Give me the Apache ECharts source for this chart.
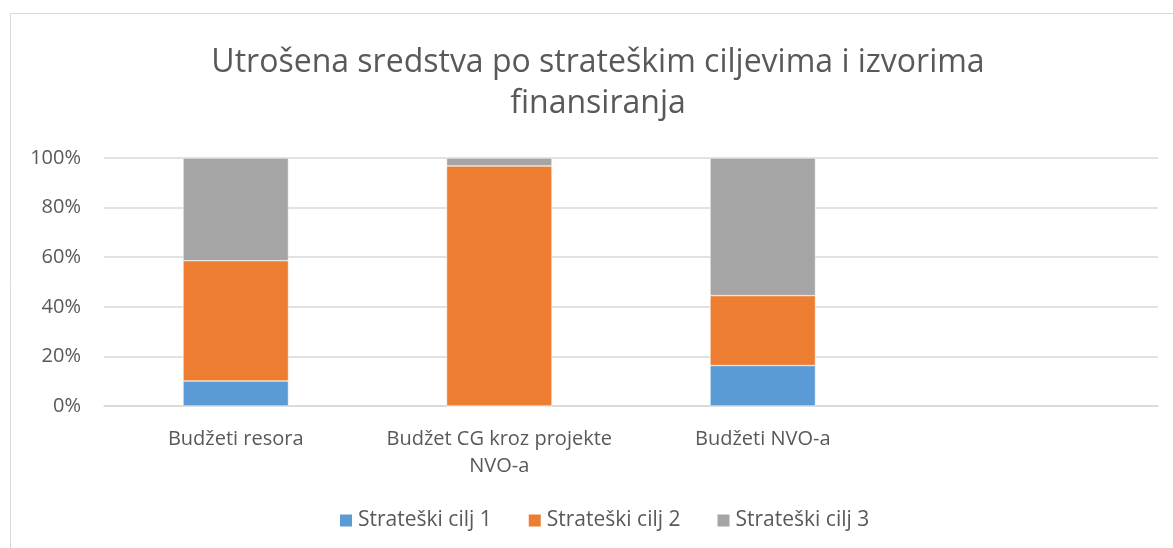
<!DOCTYPE html>
<html>
<head>
<meta charset="utf-8">
<script src="https://cdn.jsdelivr.net/npm/echarts@6/dist/echarts.min.js"></script>
<style>
  html, body { margin: 0; padding: 0; background: #fff; }
  #myChart { width: 1173px; height: 548px; }
</style>
</head>
<body>
<div id="myChart"></div>
<script>
// categories (4th slot is empty, as in the original)
const categories = ['Budžeti resora', 'Budžet CG kroz projekte\nNVO-a', 'Budžeti NVO-a', '']
const cilj1 = [10.1, 0, 16.3, null]
const cilj2 = [48.5, 96.8, 28.2, null]
const cilj3 = [41.4, 3.2, 55.5, null]
const seriesNames = ['Strateški cilj 1', 'Strateški cilj 2', 'Strateški cilj 3']
const colors = ['#5b9bd5', '#ed7d31', '#a5a5a5']

const font = '"Open Sans", "Liberation Sans", sans-serif'

let myChart = echarts.init(document.getElementById('myChart'))

function bar (name, data, color) {
  return {
    name: name,
    type: 'bar',
    stack: 'total',
    barWidth: '40%',
    itemStyle: { color: color, borderColor: '#fff', borderWidth: 0.5 },
    data: data
  }
}

let option = {
  animation: false,
  color: colors,
  title: {
    text: 'Utrošena sredstva po strateškim ciljevima i izvorima\nfinansiranja',
    left: 593,
    textAlign: 'center',
    top: 37,
    textStyle: {
      fontFamily: font,
      fontSize: 32,
      fontWeight: 'normal',
      color: '#595959',
      lineHeight: 41
    }
  },
  graphic: [{
    type: 'rect',
    shape: { x: 10.5, y: 13.5, width: 1170, height: 540 },
    style: { fill: 'none', stroke: '#d9d9d9', lineWidth: 1 },
    silent: true
  }],
  grid: {
    left: 104,
    right: 15,
    top: 158,
    bottom: 142,
    containLabel: false
  },
  legend: {
    top: 505,
    left: 333,
    itemWidth: 14,
    itemHeight: 14,
    itemGap: 35,
    icon: 'rect',
    textStyle: { fontFamily: font, fontSize: 21, color: '#595959' },
    data: seriesNames
  },
  xAxis: {
    type: 'category',
    data: categories,
    axisTick: { show: false },
    axisLine: { lineStyle: { color: '#d9d9d9', width: 1.5 } },
    axisLabel: {
      fontFamily: font,
      fontSize: 20,
      color: '#595959',
      margin: 20,
      lineHeight: 27,
      interval: 0
    }
  },
  yAxis: {
    type: 'value',
    min: 0,
    max: 100,
    interval: 20,
    axisLine: { show: false },
    axisTick: { show: false },
    splitLine: { lineStyle: { color: '#d9d9d9', width: 1.5 } },
    axisLabel: {
      fontFamily: font,
      fontSize: 20,
      color: '#595959',
      margin: 23,
      formatter: '{value}%'
    }
  },
  series: [
    bar(seriesNames[0], cilj1, colors[0]),
    bar(seriesNames[1], cilj2, colors[1]),
    bar(seriesNames[2], cilj3, colors[2])
  ]
}

myChart.setOption(option)
</script>
</body>
</html>
